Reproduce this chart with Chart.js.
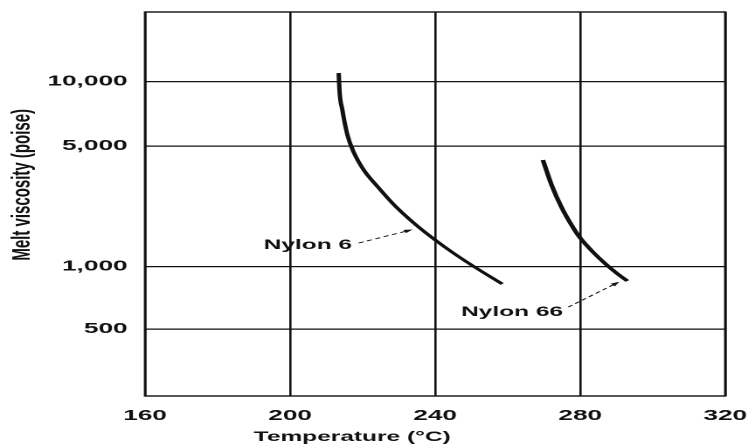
<!DOCTYPE html>
<html>
<head>
<meta charset="utf-8">
<script src="https://cdn.jsdelivr.net/npm/chart.js@4.4.1/dist/chart.umd.min.js"></script>
<style>
  html, body { margin: 0; padding: 0; background: #fff; overflow: hidden; }
  /* the figure is drawn narrow and widened horizontally, like the printed plate */
  #plate {
    position: absolute; left: 0; top: 0;
    width: 428px; height: 447px;
    transform: scaleX(1.74766); transform-origin: 0 0;
  }
</style>
</head>
<body>
<div id="plate"><canvas id="chart"></canvas></div>
<script>
// Melt viscosity of nylon 6 and nylon 66 versus melt temperature
const TEMP_TICKS = [160, 200, 240, 280, 320];
const VISCOSITY_TICKS = [500, 1000, 5000, 10000];

const NYLON6_TEMP = [213.4, 213.6, 214.4, 215.8, 217.5, 220.3, 224.2, 228.7, 234.4, 240.0, 245.4, 250.9, 258.5];
const NYLON6_VISC = [10880, 9130, 7370, 5630, 4617, 3630, 2894, 2275, 1767, 1426, 1183, 995, 824];

const NYLON66_TEMP = [269.7, 272.1, 274.8, 278.1, 280.0, 283.5, 287.0, 290.0, 293.0];
const NYLON66_VISC = [4148, 2972, 2215, 1674, 1465, 1215, 1035, 931, 852];

// The viscosity axis is a stretched log scale: each listed value sits at a
// fixed fraction of the axis height, log-interpolated in between.
const VISCOSITY_AXIS = {
  values: [250, 500, 1000, 5000, 10000, 20000],
  fractions: [0, 0.1745, 0.337, 0.651, 0.819, 1]
};

// Curve labels with dashed leader arrows (data coordinates)
const CALLOUTS = [
  { text: 'Nylon 6',  label: [204.9, 1335], tail: [218.9, 1370], head: [233.8, 1640] },
  { text: 'Nylon 66', label: [261.2, 604],  tail: [276.7, 638],  head: [290.8, 845] }
];

const FONT = '"Liberation Sans", Arial, Helvetica, sans-serif';
const INK = '#111';

class SegmentedLogScale extends Chart.LogarithmicScale {
  static id = 'segmentedLog';
  static defaults = {};

  _fractionFor(value) {
    const ks = VISCOSITY_AXIS.values.map(Math.log10);
    const fs = VISCOSITY_AXIS.fractions;
    const v = Math.log10(value);
    let i = 0;
    while (i < ks.length - 2 && v > ks[i + 1]) i++;
    return fs[i] + (v - ks[i]) / (ks[i + 1] - ks[i]) * (fs[i + 1] - fs[i]);
  }

  getPixelForValue(value) {
    if (value === undefined || value === 0) value = this.min;
    if (value === null || isNaN(value) || value <= 0) return NaN;
    return this.getPixelForDecimal(this._fractionFor(value));
  }

  getValueForPixel(pixel) {
    const f = this.getDecimalForPixel(pixel);
    const ks = VISCOSITY_AXIS.values.map(Math.log10);
    const fs = VISCOSITY_AXIS.fractions;
    let i = 0;
    while (i < fs.length - 2 && f > fs[i + 1]) i++;
    return Math.pow(10, ks[i] + (f - fs[i]) / (fs[i + 1] - fs[i]) * (ks[i + 1] - ks[i]));
  }
}
Chart.register(SegmentedLogScale);

const plotFrame = {
  id: 'plotFrame',
  beforeDatasetsDraw(chart) {
    const { ctx, chartArea: a } = chart;
    ctx.save();
    ctx.strokeStyle = INK;
    ctx.lineWidth = 1.4;
    ctx.strokeRect(a.left, a.top, a.right - a.left, a.bottom - a.top);
    ctx.restore();
  }
};

const callouts = {
  id: 'callouts',
  afterDatasetsDraw(chart) {
    const { ctx, scales: { x, y } } = chart;
    ctx.save();
    ctx.fillStyle = INK;
    ctx.strokeStyle = INK;
    ctx.font = 'bold 14px ' + FONT;
    ctx.textAlign = 'center';
    ctx.textBaseline = 'middle';
    for (const c of CALLOUTS) {
      ctx.fillText(c.text, x.getPixelForValue(c.label[0]), y.getPixelForValue(c.label[1]));
      const x0 = x.getPixelForValue(c.tail[0]), y0 = y.getPixelForValue(c.tail[1]);
      const x1 = x.getPixelForValue(c.head[0]), y1 = y.getPixelForValue(c.head[1]);
      const ang = Math.atan2(y1 - y0, x1 - x0);
      const len = 5, half = 1.8;
      const bx = x1 - len * Math.cos(ang), by = y1 - len * Math.sin(ang);
      ctx.lineWidth = 0.9;
      ctx.setLineDash([3, 2.2]);
      ctx.beginPath();
      ctx.moveTo(x0, y0);
      ctx.lineTo(bx, by);
      ctx.stroke();
      ctx.setLineDash([]);
      ctx.beginPath();
      ctx.moveTo(x1, y1);
      ctx.lineTo(bx + half * Math.sin(ang), by - half * Math.cos(ang));
      ctx.lineTo(bx - half * Math.sin(ang), by + half * Math.cos(ang));
      ctx.closePath();
      ctx.fill();
    }
    ctx.restore();
  }
};

const axisTitles = {
  id: 'axisTitles',
  afterDraw(chart) {
    const { ctx, chartArea: a } = chart;
    ctx.save();
    ctx.fillStyle = INK;
    ctx.textAlign = 'center';
    ctx.textBaseline = 'middle';
    ctx.font = 'bold 14px ' + FONT;
    ctx.fillText('Temperature (°C)', a.left + 0.357 * (a.right - a.left), chart.height - 10);
    ctx.translate(12.9, a.top + 0.45 * (a.bottom - a.top));
    ctx.rotate(-Math.PI / 2);
    ctx.font = 'bold 15px ' + FONT;
    ctx.fillText('Melt viscosity (poise)', 0, 0);
    ctx.restore();
  }
};

const gridStyle = { color: INK, lineWidth: 1.3, drawTicks: false };
const tickFont = { family: FONT, size: 15, weight: 'bold' };

const curve = (temps, visc) => temps.map((t, i) => ({ x: t, y: visc[i] }));

new Chart(document.getElementById('chart'), {
  type: 'line',
  data: {
    datasets: [
      {
        label: 'Nylon 6',
        data: curve(NYLON6_TEMP, NYLON6_VISC),
        borderColor: INK, borderWidth: 2.5, pointRadius: 0,
        cubicInterpolationMode: 'monotone', fill: false
      },
      {
        label: 'Nylon 66',
        data: curve(NYLON66_TEMP, NYLON66_VISC),
        borderColor: INK, borderWidth: 2.7, pointRadius: 0,
        cubicInterpolationMode: 'monotone', fill: false
      }
    ]
  },
  options: {
    responsive: true,
    maintainAspectRatio: false,
    devicePixelRatio: 2,
    animation: false,
    layout: { padding: { left: 0, right: 13, top: 12, bottom: 0 } },
    plugins: { legend: { display: false }, tooltip: { enabled: false } },
    scales: {
      x: {
        type: 'linear',
        min: 160, max: 320,
        afterBuildTicks: s => { s.ticks = TEMP_TICKS.map(v => ({ value: v })); },
        afterFit: s => { s.height = 51; s.paddingLeft = 0; s.paddingRight = 0; },
        grid: gridStyle,
        border: { display: false },
        ticks: { padding: 11, color: INK, font: tickFont, maxRotation: 0, autoSkip: false }
      },
      y: {
        type: 'segmentedLog',
        min: 250, max: 20000,
        afterBuildTicks: s => { s.ticks = VISCOSITY_TICKS.map(v => ({ value: v })); },
        afterFit: s => { s.width = 83; s.paddingTop = 0; s.paddingBottom = 0; },
        grid: gridStyle,
        border: { display: false },
        ticks: {
          padding: 10, color: INK, font: tickFont, autoSkip: false,
          callback: v => Number(v).toLocaleString('en-US')
        }
      }
    }
  },
  plugins: [plotFrame, callouts, axisTitles]
});
</script>
</body>
</html>
